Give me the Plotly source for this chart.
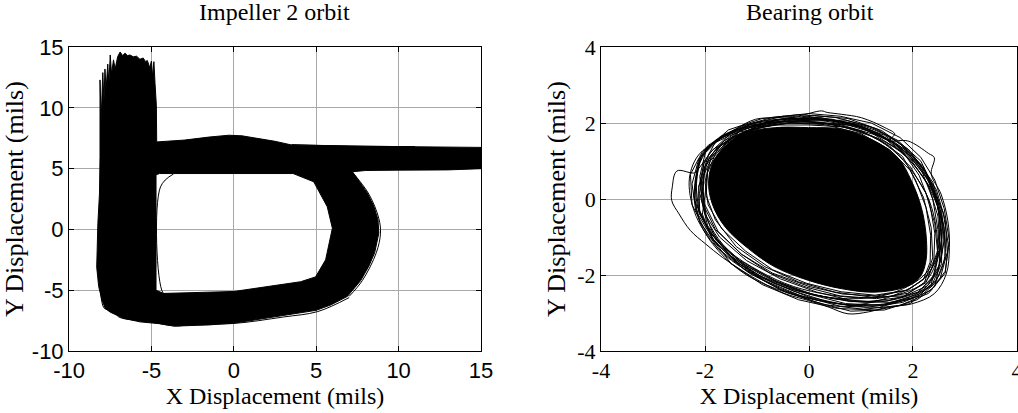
import plotly.graph_objects as go

# ---------------- Impeller 2 orbit (mils) ----------------
# Outline of the densely traced orbit band: outer edge clockwise, a slit
# into the central opening, the opening counter-clockwise, and back out.
imp_outer_top_x = [-8.12, -8.05, -7.95, -7.88, -7.82, -7.75, -7.65, -7.58, -7.50, -7.42,
                   -7.30, -7.20, -7.05, -6.90, -6.75, -6.60, -6.45, -6.30, -6.10, -5.90,
                   -5.70, -5.50, -5.35, -5.25, -5.10, -5.00, -4.92, -4.85, -4.78, -4.70,
                   -4.68, -3.00, -1.50, -0.30, 0.50, 1.50, 2.50, 3.50, 5.00, 8.00,
                   11.00, 15.00, 15.00, 14.00, 13.00, 10.00, 8.00, 7.20]
imp_outer_top_y = [12.30, 9.00, 12.90, 10.50, 13.20, 11.50, 13.60, 12.00, 14.35, 12.80,
                   13.95, 13.20, 14.20, 14.60, 14.30, 14.50, 14.30, 14.35, 14.20, 14.25,
                   14.00, 14.10, 13.80, 13.90, 13.30, 13.85, 12.50, 13.80, 12.00, 10.20,
                   7.20, 7.35, 7.60, 7.75, 7.70, 7.50, 7.25, 6.95, 6.90, 6.85,
                   6.80, 6.75, 5.00, 4.95, 4.90, 4.88, 4.85, 4.75]
imp_outer_right_x = [8.10, 8.50, 8.75, 8.80, 8.55, 8.20, 7.70, 6.90, 5.90, 5.00, 3.00, 1.00, 0.00]
imp_outer_right_y = [3.00, 1.90, 0.80, -0.30, -1.90, -3.00, -4.20, -5.50, -6.20, -6.65, -7.10, -7.50, -7.70]
imp_hole_x = [0.00, 4.05, 4.96, 5.57, 5.98, 5.67, 4.85, 3.60, 0.00, -4.50, -4.72, -4.72, -4.26, 0.00]
imp_hole_y = [-5.10, -4.30, -3.90, -2.50, 0.10, 1.87, 3.92, 4.60, 4.60, 4.60, 4.50, -5.00, -5.26, -5.10]
imp_outer_left_x = [0.00, -1.50, -3.60, -4.50, -5.70, -6.70, -7.50, -7.80, -8.00, -8.20,
                    -8.32, -8.30, -8.25, -8.15, -8.12, -8.12]
imp_outer_left_y = [-7.70, -7.85, -7.95, -7.75, -7.60, -7.30, -6.80, -6.50, -5.80, -4.70,
                    -3.10, -1.00, 0.50, 3.00, 6.00, 12.30]

# Single stray passes drawn outside the dense band
imp_stray_inner_x = [-3.66, -4.45, -4.30, -4.00, 0.00]
imp_stray_inner_y = [4.56, 3.50, -5.20, -5.30, -5.15]
imp_stray_bottom_x = [-8.10, -7.85, -7.30, -7.00, -5.07, -3.55, -2.44, 0.00, 3.00, 5.10, 7.00]
imp_stray_bottom_y = [-4.75, -6.50, -6.63, -7.18, -7.59, -7.94, -7.78, -7.73, -7.20, -6.75, -5.60]
imp_stray_right_x = [7.20, 8.20, 8.80, 8.90, 8.65, 7.80, 7.00]
imp_stray_right_y = [4.70, 2.90, 0.90, -0.30, -1.90, -4.20, -5.50]
imp_stray_top_x = [3.50, 7.00, 11.00]
imp_stray_top_y = [6.98, 6.85, 6.82]

imp_ticks = [-10, -5, 0, 5, 10, 15]
imp_ticktext = ["-10", "-5", "0", "5", "10", "15"]

# ---------------- Bearing orbit (mils) ----------------
# Dense core of the orbit
brg_core_x = [-1.80, -1.29, -0.65, -0.01, 0.63, 1.26, 1.71, 1.97, 2.16, 2.25, 2.25,
              2.13, 1.84, 1.26, 0.63, -0.01, -0.65, -1.16, -1.61, -1.86, -1.93, -1.80]
brg_core_y = [1.09, 1.71, 1.88, 1.88, 1.84, 1.53, 1.09, 0.48, -0.22, -0.92, -1.62,
              -2.06, -2.32, -2.45, -2.36, -2.14, -1.79, -1.31, -0.74, -0.13, 0.48, 1.09]

# Individual revolutions around the core (smooth passes)
brg_loop1_x = [-2.18, -2.54, -2.63, -2.64, -2.50, -2.28, -1.99, -1.67, -1.29, -0.91, -0.46,
               -0.01, 0.37, 0.75, 1.14, 1.52, 1.97, 2.41, 2.64, 2.70, 2.67, 2.54, 2.35,
               2.41, 2.30, 1.90, 1.52, 1.65, 1.46, 1.01, 0.63, 0.35, 0.24, -0.20, -0.65,
               -1.03, -1.42, -1.80, -2.09, -2.18]
brg_loop1_y = [0.70, 0.74, 0.31, -0.04, -0.39, -0.83, -1.18, -1.53, -1.88, -2.19, -2.49,
               -2.67, -2.84, -3.02, -2.97, -2.84, -2.76, -2.49, -1.97, -1.27, -0.57, 0.13, 0.66,
               1.09, 1.20, 1.53, 1.53, 1.71, 1.88, 2.14, 2.23, 2.28, 2.32, 2.19, 2.14,
               2.10, 1.84, 1.53, 1.09, 0.70]
brg_loop2_x = [-2.15, -2.05, -1.70, -1.20, -0.60, 0.00, 0.60, 1.20, 1.70, 2.10, 2.45,
               2.60, 2.60, 2.40, 1.90, 1.20, 0.50, -0.20, -0.90, -1.50, -1.90, -2.15, -2.15]
brg_loop2_y = [0.60, 1.20, 1.60, 1.95, 2.10, 2.12, 2.02, 1.80, 1.35, 0.75, 0.00,
               -0.80, -1.60, -2.20, -2.55, -2.72, -2.62, -2.40, -2.00, -1.45, -0.85, -0.15, 0.60]
brg_loop3_x = [-2.05, -1.95, -1.60, -1.00, -0.30, 0.40, 1.05, 1.60, 2.00, 2.30, 2.45,
               2.45, 2.25, 1.75, 1.10, 0.40, -0.30, -0.95, -1.55, -1.90, -2.05, -2.05]
brg_loop3_y = [0.40, 1.00, 1.50, 1.85, 2.02, 1.98, 1.75, 1.30, 0.70, 0.00, -0.80,
               -1.60, -2.15, -2.50, -2.60, -2.52, -2.30, -1.90, -1.35, -0.70, -0.10, 0.40]
brg_loop4_x = [-2.20, -2.10, -1.85, -1.40, -0.85, -0.20, 0.45, 1.10, 1.65, 2.05, 2.35,
               2.55, 2.55, 2.30, 1.80, 1.05, 0.30, -0.45, -1.20, -1.75, -2.10, -2.20]
brg_loop4_y = [0.30, 0.95, 1.45, 1.80, 2.00, 2.05, 1.95, 1.72, 1.35, 0.85, 0.20,
               -0.60, -1.50, -2.25, -2.65, -2.80, -2.70, -2.45, -2.00, -1.35, -0.60, 0.30]
brg_loop5_x = [-2.00, -1.80, -1.45, -0.90, -0.25, 0.45, 1.10, 1.70, 2.15, 2.40, 2.55,
               2.50, 2.20, 1.60, 0.90, 0.15, -0.55, -1.20, -1.70, -1.98, -2.00]
brg_loop5_y = [0.75, 1.30, 1.70, 1.98, 2.12, 2.08, 1.90, 1.50, 0.90, 0.25, -0.55,
               -1.40, -2.10, -2.55, -2.78, -2.65, -2.35, -1.85, -1.20, -0.40, 0.75]
brg_loop6_x = [-2.30, -2.10, -1.55, -0.95, -0.35, 0.30, 1.00, 1.55, 2.00, 2.30, 2.50,
               2.50, 2.25, 1.65, 0.95, 0.20, -0.60, -1.35, -1.85, -2.20, -2.30]
brg_loop6_y = [0.55, 1.20, 1.65, 1.95, 2.05, 2.10, 1.92, 1.55, 1.05, 0.45, -0.35,
               -1.20, -1.95, -2.45, -2.62, -2.55, -2.25, -1.75, -1.15, -0.35, 0.55]

# Revolutions hugging the core (jagged passes)
brg_loopA_x = [-2.00, -1.88, -1.35, -0.68, 0.00, 0.66, 1.32, 1.80, 2.05, 2.25, 2.34,
               2.33, 2.20, 1.88, 1.27, 0.62, -0.04, -0.70, -1.22, -1.68, -1.94, -2.00]
brg_loopA_y = [0.45, 1.12, 1.76, 1.95, 1.95, 1.90, 1.60, 1.12, 0.50, -0.22, -0.95,
               -1.66, -2.12, -2.40, -2.53, -2.44, -2.22, -1.86, -1.37, -0.78, -0.15, 0.45]
brg_loopB_x = [-2.08, -1.92, -1.45, -0.80, -0.10, 0.55, 1.25, 1.82, 2.12, 2.32, 2.42,
               2.40, 2.25, 1.90, 1.30, 0.60, -0.05, -0.75, -1.30, -1.75, -2.02, -2.08]
brg_loopB_y = [0.55, 1.20, 1.80, 2.02, 2.05, 1.98, 1.70, 1.22, 0.62, -0.10, -0.90,
               -1.70, -2.20, -2.48, -2.62, -2.55, -2.32, -1.95, -1.45, -0.85, -0.10, 0.55]
brg_loopC_x = [-2.12, -2.02, -1.62, -1.00, -0.35, 0.30, 1.00, 1.55, 1.95, 2.20, 2.35,
               2.38, 2.22, 1.80, 1.15, 0.45, -0.25, -0.95, -1.50, -1.92, -2.12, -2.12]
brg_loopC_y = [0.30, 0.95, 1.55, 1.90, 2.00, 1.96, 1.72, 1.30, 0.75, 0.05, -0.75,
               -1.55, -2.20, -2.58, -2.70, -2.62, -2.40, -2.02, -1.50, -0.85, -0.25, 0.30]
brg_loopD_x = [-1.95, -1.75, -1.25, -0.55, 0.15, 0.85, 1.45, 1.95, 2.28, 2.48, 2.55,
               2.50, 2.28, 1.85, 1.20, 0.50, -0.20, -0.85, -1.40, -1.80, -1.98, -1.95]
brg_loopD_y = [0.70, 1.35, 1.88, 2.10, 2.12, 1.98, 1.68, 1.20, 0.55, -0.20, -1.00,
               -1.75, -2.28, -2.55, -2.58, -2.45, -2.18, -1.78, -1.25, -0.55, 0.10, 0.70]
brg_loopE_x = [-2.25, -2.12, -1.72, -1.10, -0.45, 0.20, 0.90, 1.50, 1.98, 2.30, 2.48,
               2.52, 2.40, 2.05, 1.45, 0.75, 0.00, -0.70, -1.35, -1.85, -2.18, -2.25]
brg_loopE_y = [0.40, 1.05, 1.58, 1.98, 2.12, 2.15, 1.95, 1.55, 1.00, 0.35, -0.45,
               -1.30, -2.05, -2.52, -2.78, -2.80, -2.58, -2.20, -1.70, -1.05, -0.30, 0.40]
brg_loopF_x = [-2.05, -2.00, -1.70, -1.15, -0.50, 0.20, 0.95, 1.60, 2.10, 2.45, 2.62,
               2.66, 2.52, 2.15, 1.55, 0.85, 0.15, -0.55, -1.20, -1.72, -2.00, -2.05]
brg_loopF_y = [0.20, 0.85, 1.40, 1.82, 2.05, 2.08, 1.90, 1.50, 0.95, 0.25, -0.55,
               -1.40, -2.10, -2.55, -2.72, -2.68, -2.45, -2.10, -1.62, -1.00, -0.40, 0.20]
brg_loopG_x = [-2.00, -1.95, -1.60, -1.05, -0.40, 0.30, 1.00, 1.55, 1.95, 2.25, 2.42,
               2.48, 2.35, 1.95, 1.30, 0.55, -0.20, -0.90, -1.50, -1.88, -2.05, -2.00]
brg_loopG_y = [0.10, 0.80, 1.45, 1.85, 2.00, 2.00, 1.80, 1.40, 0.85, 0.15, -0.65,
               -1.50, -2.25, -2.75, -2.92, -2.88, -2.65, -2.25, -1.70, -1.00, -0.40, 0.10]
brg_loopH_x = [-2.10, -1.98, -1.55, -0.90, -0.20, 0.50, 1.15, 1.70, 2.15, 2.40, 2.52,
               2.50, 2.30, 1.90, 1.30, 0.65, 0.00, -0.70, -1.30, -1.80, -2.05, -2.10]
brg_loopH_y = [0.60, 1.30, 1.82, 2.12, 2.22, 2.15, 1.92, 1.55, 1.00, 0.30, -0.50,
               -1.35, -2.00, -2.40, -2.55, -2.50, -2.30, -1.95, -1.45, -0.80, -0.10, 0.60]
brg_loopI_x = [-2.15, -1.95, -1.60, -1.05, -0.50, 0.05, 0.70, 1.30, 1.75, 2.20, 2.42,
               2.60, 2.62, 2.45, 2.00, 1.40, 0.70, 0.00, -0.70, -1.35, -1.90, -2.20, -2.15]
brg_loopI_y = [0.85, 1.40, 1.72, 2.00, 2.18, 2.05, 2.08, 1.85, 1.45, 0.85, 0.10,
               -0.75, -1.55, -2.15, -2.62, -2.80, -2.75, -2.50, -2.12, -1.60, -0.90, -0.05, 0.85]
brg_loopJ_x = [-2.22, -2.15, -1.85, -1.40, -0.75, -0.15, 0.45, 1.05, 1.62, 2.02, 2.35,
               2.58, 2.68, 2.62, 2.30, 1.75, 1.05, 0.30, -0.45, -1.15, -1.75, -2.10, -2.22]
brg_loopJ_y = [0.10, 0.75, 1.30, 1.68, 2.05, 2.18, 2.10, 1.88, 1.48, 0.98, 0.40,
               -0.35, -1.20, -1.95, -2.48, -2.80, -2.90, -2.78, -2.45, -1.95, -1.30, -0.60, 0.10]
brg_loopK_x = [-1.90, -1.55, -1.00, -0.35, 0.35, 1.00, 1.55, 2.05, 2.38, 2.55, 2.60,
               2.48, 2.10, 1.50, 0.80, 0.10, -0.60, -1.25, -1.78, -2.10, -2.12, -1.90]
brg_loopK_y = [1.00, 1.55, 1.92, 2.10, 2.08, 1.88, 1.55, 1.05, 0.45, -0.30, -1.10,
               -1.90, -2.45, -2.68, -2.70, -2.52, -2.18, -1.72, -1.10, -0.40, 0.35, 1.00]
brg_loopL_x = [-2.28, -2.05, -1.70, -1.15, -0.55, 0.10, 0.75, 1.40, 1.92, 2.25, 2.45,
               2.55, 2.55, 2.35, 1.95, 1.35, 0.60, -0.15, -0.85, -1.45, -1.95, -2.25, -2.28]
brg_loopL_y = [0.65, 1.25, 1.65, 1.95, 2.02, 2.20, 2.12, 1.80, 1.30, 0.70, 0.00,
               -0.85, -1.70, -2.30, -2.62, -2.85, -2.82, -2.55, -2.15, -1.60, -0.95, -0.15, 0.65]
brg_loopM_x = [-2.02, -1.80, -1.30, -0.70, 0.00, 0.60, 1.20, 1.75, 2.15, 2.42, 2.60,
               2.70, 2.62, 2.35, 1.80, 1.10, 0.40, -0.30, -1.00, -1.55, -1.95, -2.10, -2.02]
brg_loopM_y = [0.95, 1.50, 1.92, 2.15, 2.25, 2.18, 2.00, 1.62, 1.10, 0.50, -0.25,
               -1.10, -1.90, -2.40, -2.72, -2.85, -2.72, -2.42, -2.00, -1.45, -0.70, 0.15, 0.95]
brg_loopN_x = [-2.18, -2.08, -1.80, -1.25, -0.60, 0.05, 0.75, 1.35, 1.85, 2.18, 2.38,
               2.48, 2.52, 2.42, 2.08, 1.45, 0.80, 0.10, -0.60, -1.25, -1.80, -2.12, -2.18]
brg_loopN_y = [0.45, 1.10, 1.55, 1.85, 2.00, 2.00, 1.95, 1.70, 1.30, 0.70, 0.00,
               -0.80, -1.65, -2.30, -2.65, -2.92, -2.95, -2.70, -2.35, -1.85, -1.15, -0.35, 0.45]

brg_ticks = [-4, -2, 0, 2, 4]
brg_ticktext = ["-4", "-2", "0", "2", "4"]

fig = go.Figure()

# Impeller 2 orbit: dense band as one filled outline
imp_x = imp_outer_top_x + imp_outer_right_x + imp_hole_x + imp_outer_left_x
imp_y = imp_outer_top_y + imp_outer_right_y + imp_hole_y + imp_outer_left_y
fig.add_trace(go.Scatter(x=imp_x, y=imp_y, mode="lines", fill="toself",
                         fillcolor="black", line=dict(color="black", width=1),
                         xaxis="x", yaxis="y", hoverinfo="skip"))
for sx, sy in [(imp_stray_inner_x, imp_stray_inner_y),
               (imp_stray_bottom_x, imp_stray_bottom_y),
               (imp_stray_right_x, imp_stray_right_y),
               (imp_stray_top_x, imp_stray_top_y)]:
    fig.add_trace(go.Scatter(x=sx, y=sy, mode="lines",
                             line=dict(color="black", width=1, shape="spline"),
                             xaxis="x", yaxis="y", hoverinfo="skip"))

# Bearing orbit: individual revolutions, then the dense core
smooth_loops = [(brg_loop1_x, brg_loop1_y), (brg_loop2_x, brg_loop2_y),
                (brg_loop3_x, brg_loop3_y), (brg_loop4_x, brg_loop4_y),
                (brg_loop5_x, brg_loop5_y), (brg_loop6_x, brg_loop6_y)]
jagged_loops = [(brg_loopA_x, brg_loopA_y), (brg_loopB_x, brg_loopB_y),
                (brg_loopC_x, brg_loopC_y), (brg_loopD_x, brg_loopD_y),
                (brg_loopE_x, brg_loopE_y), (brg_loopF_x, brg_loopF_y),
                (brg_loopG_x, brg_loopG_y), (brg_loopH_x, brg_loopH_y),
                (brg_loopI_x, brg_loopI_y), (brg_loopJ_x, brg_loopJ_y),
                (brg_loopK_x, brg_loopK_y), (brg_loopL_x, brg_loopL_y),
                (brg_loopM_x, brg_loopM_y), (brg_loopN_x, brg_loopN_y)]
for lx, ly in smooth_loops:
    fig.add_trace(go.Scatter(x=lx, y=ly, mode="lines",
                             line=dict(color="black", width=1, shape="spline"),
                             xaxis="x2", yaxis="y2", hoverinfo="skip"))
for lx, ly in jagged_loops:
    fig.add_trace(go.Scatter(x=lx, y=ly, mode="lines",
                             line=dict(color="black", width=1),
                             xaxis="x2", yaxis="y2", hoverinfo="skip"))
fig.add_trace(go.Scatter(x=brg_core_x, y=brg_core_y, mode="lines", fill="toself",
                         fillcolor="black", line=dict(color="black", width=1, shape="spline"),
                         xaxis="x2", yaxis="y2", hoverinfo="skip"))

serif = "Liberation Serif"
sans = "Liberation Sans"
grid = "#a8a8a8"

common = dict(showgrid=True, gridcolor=grid, gridwidth=1, zeroline=False,
              showline=True, linecolor="black", linewidth=1, mirror="ticks",
              ticks="inside", ticklen=5, tickcolor="black", automargin=False,
              ticklabeloverflow="allow")

fig.update_layout(
    width=1018, height=413,
    margin=dict(l=0, r=0, t=0, b=0, autoexpand=False),
    paper_bgcolor="white", plot_bgcolor="white",
    showlegend=False,
    xaxis=dict(domain=[0.0678, 0.4725], range=[-10, 15],
               tickvals=imp_ticks, ticktext=imp_ticktext,
               tickfont=dict(family=sans, size=22, color="black"),
               title=dict(text="X Displacement (mils)", standoff=2,
                          font=dict(family=serif, size=24, color="black")),
               anchor="y", **common),
    yaxis=dict(domain=[0.150, 0.886], range=[-10, 15],
               tickvals=imp_ticks, ticktext=imp_ticktext,
               tickfont=dict(family=sans, size=22, color="black"),
               title=dict(text="Y Displacement (mils)", standoff=2,
                          font=dict(family=serif, size=26, color="black")),
               anchor="x", **common),
    xaxis2=dict(domain=[0.5904, 0.999], range=[-4, 4],
                tickvals=brg_ticks, ticktext=brg_ticktext,
                tickfont=dict(family=serif, size=22, color="black"),
                title=dict(text="X Displacement (mils)", standoff=2,
                           font=dict(family=serif, size=24, color="black")),
                anchor="y2", **common),
    yaxis2=dict(domain=[0.150, 0.886], range=[-4, 4],
                tickvals=brg_ticks, ticktext=brg_ticktext,
                tickfont=dict(family=serif, size=22, color="black"),
                title=dict(text="Y Displacement (mils)", standoff=4,
                           font=dict(family=serif, size=26, color="black")),
                anchor="x2", **common),
    annotations=[
        dict(text="Impeller 2 orbit", x=0.27, y=0.971, xref="paper", yref="paper",
             xanchor="center", yanchor="middle", showarrow=False,
             font=dict(family=serif, size=24, color="black")),
        dict(text="Bearing orbit", x=0.7952, y=0.971, xref="paper", yref="paper",
             xanchor="center", yanchor="middle", showarrow=False,
             font=dict(family=serif, size=24, color="black")),
    ],
)

fig.write_html("out.html")
